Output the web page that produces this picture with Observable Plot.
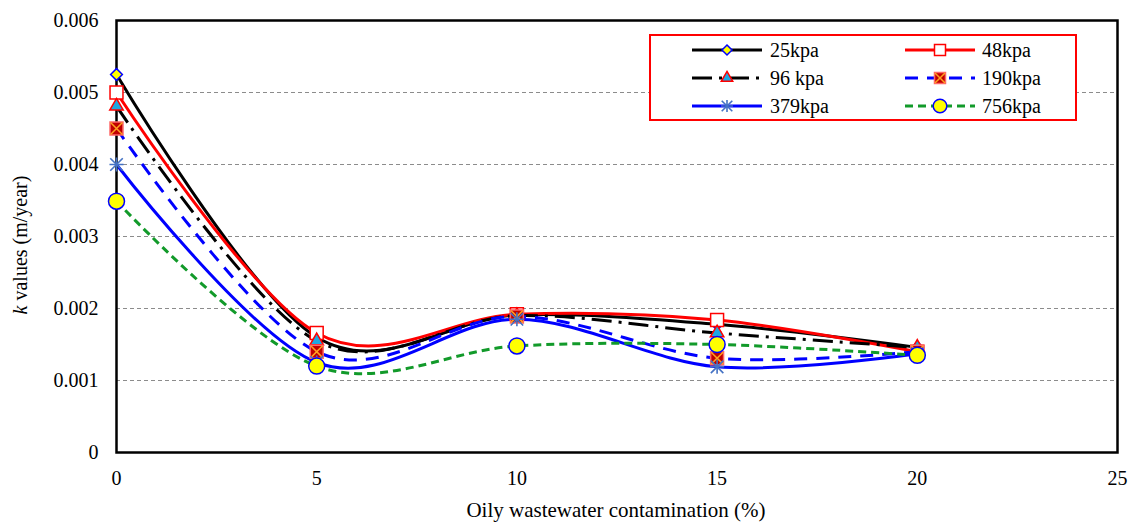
<!DOCTYPE html>
<html><head><meta charset="utf-8">
<script src="https://cdn.jsdelivr.net/npm/d3@7"></script>
<script src="https://cdn.jsdelivr.net/npm/@observablehq/plot@0.6"></script>
<style>
body{margin:0;background:#fff;}
#wrap{position:relative;width:1134px;height:522px;}
#legend{position:absolute;left:0;top:0;}
</style></head><body><div id="wrap"></div>
<script>
// ---- data ----
const contamination = [0, 5, 10, 15, 20];
const seriesNames = ["25kpa", "48kpa", "96 kpa", "190kpa", "379kpa", "756kpa"];
const k25  = [0.00525, 0.00160, 0.00191, 0.00178, 0.00146];
const k48  = [0.00500, 0.00166, 0.00192, 0.00184, 0.00140];
const k96  = [0.00481, 0.00155, 0.00190, 0.00166, 0.00146];
const k190 = [0.00450, 0.00140, 0.00189, 0.00131, 0.00140];
const k379 = [0.00400, 0.00125, 0.00185, 0.00119, 0.00137];
const k756 = [0.00349, 0.00120, 0.00148, 0.00150, 0.00135];
const xTicks = [0, 5, 10, 15, 20, 25];
const yTicks = [0, 0.001, 0.002, 0.003, 0.004, 0.005, 0.006];
const gridTicks = [0.001, 0.002, 0.003, 0.004, 0.005];
const xLabel = "Oily wastewater contamination (%)";

// ---- styles ----
const FONT = '"Liberation Serif", Tinos, "Times New Roman", Times, "Nimbus Roman", FreeSerif, "DejaVu Serif", serif';
const values = [k25, k48, k96, k190, k379, k756];
const styles = [
  {stroke: "#000000", dash: null, sym: "diamond2", fill: "#ffff00", mstroke: "#0000ff", r: 5.3},
  {stroke: "#ff0000", dash: null, sym: "square", fill: "#ffffff", mstroke: "#ff0000", r: 7.3},
  {stroke: "#000000", dash: "20,7,3,7", sym: "triangle", fill: "#1ea7e1", mstroke: "#ff0000", r: 5},
  {stroke: "#0000ff", dash: "13,9", sym: "square", fill: "#c00000", mstroke: "#ff6666", r: 7.3, cross: "#ffa020"},
  {stroke: "#0000ff", dash: null, sym: "star8", fill: "none", mstroke: "#4472c4", r: 4.6},
  {stroke: "#129a2a", dash: "8,5", sym: "circle", fill: "#ffff00", mstroke: "#0000ff", r: 8}
];

const rows = seriesNames.flatMap((s, i) => contamination.map((x, j) => ({series: s, idx: i, x, k: values[i][j]})));

const marks = [
  Plot.gridY(gridTicks, {stroke: "#8c8c8c", strokeOpacity: 1, strokeDasharray: "4,3", strokeWidth: 1}),
  Plot.axisX(xTicks, {tickSize: 0, tickPadding: 18, fontSize: 20, label: null, fontFamily: FONT}),
  Plot.axisY(yTicks, {tickSize: 0, tickPadding: 18, fontSize: 20, label: null, fontFamily: FONT,
    tickFormat: d => d === 0 ? "0" : d.toFixed(3)})
];
seriesNames.forEach((s, i) => {
  const st = styles[i];
  marks.push(Plot.line(rows.filter(d => d.idx === i), {
    x: "x", y: "k", stroke: st.stroke, strokeWidth: 3, curve: "cardinal",
    strokeDasharray: st.dash || undefined, strokeLinecap: "butt"
  }));
});
marks.push(Plot.frame({stroke: "#000", strokeWidth: 2.5}));
seriesNames.forEach((s, i) => {
  const st = styles[i];
  const d = rows.filter(r => r.idx === i);
  if (st.sym === "star8") {
    marks.push(Plot.dot(d, {x: "x", y: "k", symbol: "plus", r: st.r, stroke: st.mstroke, strokeWidth: 1.6}));
    marks.push(Plot.dot(d, {x: "x", y: "k", symbol: "times", r: st.r * 1.25, stroke: st.mstroke, strokeWidth: 1.6}));
  } else {
    marks.push(Plot.dot(d, {x: "x", y: "k", symbol: st.sym, r: st.r, fill: st.fill, stroke: st.mstroke, strokeWidth: 1.5}));
    if (st.cross) marks.push(Plot.dot(d, {x: "x", y: "k", symbol: "times", r: st.r * 0.75, stroke: st.cross, strokeWidth: 1.5}));
  }
});

const chart = Plot.plot({
  width: 1134, height: 522,
  marginTop: 20, marginBottom: 70, marginLeft: 116, marginRight: 17,
  style: {fontSize: "20px", color: "#000", background: "#fff"},
  x: {domain: [0, 25]},
  y: {domain: [0, 0.006]},
  marks
});
document.getElementById("wrap").appendChild(chart);

// axis titles
const svg = d3.select(chart);
svg.append("text").attr("x", 616).attr("y", 517).attr("text-anchor", "middle")
  .attr("font-size", 21).attr("fill", "#000").text(xLabel);
const yl = svg.append("text").attr("transform", "translate(27,245) rotate(-90)")
  .attr("text-anchor", "middle").attr("font-size", 20).attr("fill", "#000");
yl.append("tspan").attr("font-style", "italic").text("k");
yl.append("tspan").text(" values (m/year)");

// legend overlay
const lg = d3.select("#wrap").append("svg").attr("id", "legend")
  .attr("width", 1134).attr("height", 522);
lg.append("rect").attr("x", 650).attr("y", 35).attr("width", 426).attr("height", 85)
  .attr("fill", "#fff").attr("stroke", "#ff0000").attr("stroke-width", 2);
const symMap = {diamond2: d3.symbolDiamond2, square: d3.symbolSquare, triangle: d3.symbolTriangle, circle: d3.symbolCircle, times: d3.symbolTimes, plus: d3.symbolPlus};
seriesNames.forEach((s, i) => {
  const st = styles[i];
  const col = i % 2, row = Math.floor(i / 2);
  const x0 = col === 0 ? 692 : 905, cy = 50 + row * 28;
  const g = lg.append("g");
  g.append("line").attr("x1", x0).attr("x2", x0 + 70).attr("y1", cy).attr("y2", cy)
    .attr("stroke", st.stroke).attr("stroke-width", 3)
    .attr("stroke-dasharray", st.dash || null);
  const mx = x0 + 35;
  const lr = st.r * 0.85;
  if (st.sym === "star8") {
    [["plus", lr], ["times", lr * 1.25]].forEach(([t, rr]) => g.append("path").attr("d", d3.symbol(symMap[t], Math.PI * rr * rr)())
      .attr("transform", `translate(${mx},${cy})`).attr("fill", "none").attr("stroke", st.mstroke).attr("stroke-width", 1.6));
  } else {
    g.append("path").attr("d", d3.symbol(symMap[st.sym], Math.PI * lr * lr)())
      .attr("transform", `translate(${mx},${cy})`).attr("fill", st.fill).attr("stroke", st.mstroke).attr("stroke-width", 1.5);
    if (st.cross) g.append("path").attr("d", d3.symbol(d3.symbolTimes, Math.PI * Math.pow(lr * 0.75, 2))())
      .attr("transform", `translate(${mx},${cy})`).attr("fill", "none").attr("stroke", st.cross).attr("stroke-width", 1.5);
  }
  g.append("text").attr("x", col === 0 ? 770 : 982).attr("y", cy + 7).attr("font-size", 20).attr("fill", "#000").text(s);
});

// serif font where available
d3.selectAll("#wrap text, #wrap tspan").attr("font-family", FONT).style("font-family", FONT);
d3.selectAll("#wrap svg").attr("font-family", FONT).style("font-family", FONT);
</script></body></html>
